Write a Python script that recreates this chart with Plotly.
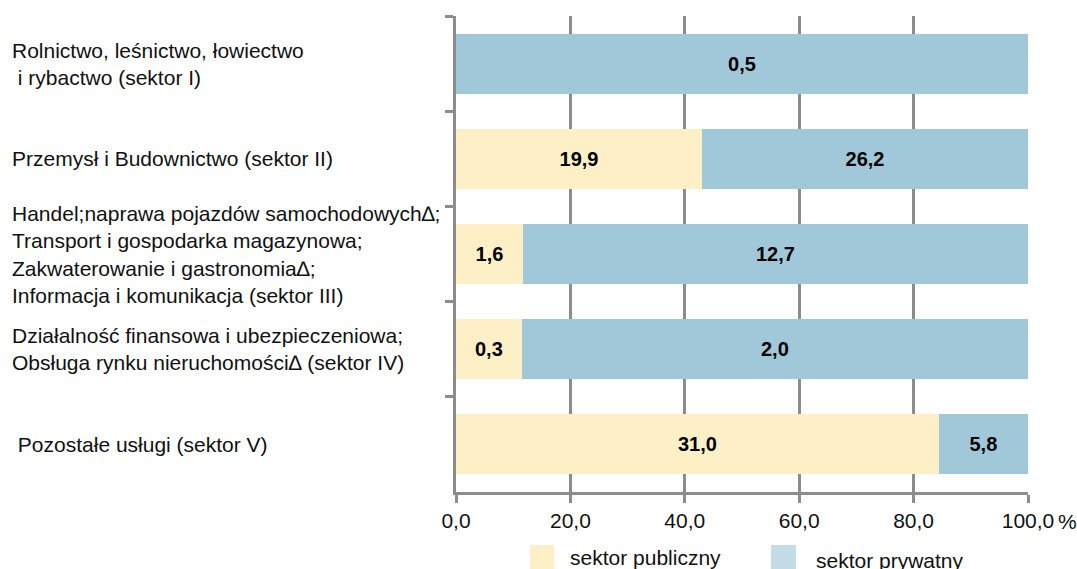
import plotly.graph_objects as go

categories = ["sektor I", "sektor II", "sektor III", "sektor IV", "sektor V"]
category_labels = [
    "Rolnictwo, leśnictwo, łowiectwo<br> i rybactwo (sektor I)",
    "Przemysł i Budownictwo (sektor II)",
    "Handel;naprawa pojazdów samochodowych∆;<br>Transport i gospodarka magazynowa;<br>Zakwaterowanie i gastronomia∆;<br>Informacja i komunikacja (sektor III)",
    "Działalność finansowa i ubezpieczeniowa;<br>Obsługa rynku nieruchomości∆ (sektor IV)",
    " Pozostałe usługi (sektor V)",
]
# share of bar (%)
public_pct = [0.0, 43.0, 11.7, 11.5, 84.4]
private_pct = [100.0, 57.0, 88.3, 88.5, 15.6]
# value labels printed in bars
public_labels = ["", "19,9", "1,6", "0,3", "31,0"]
private_labels = ["0,5", "26,2", "12,7", "2,0", "5,8"]
series_names = ["sektor publiczny", "sektor prywatny"]
x_ticks = [0, 20, 40, 60, 80, 100]
x_ticktext = ["0,0", "20,0", "40,0", "60,0", "80,0", "100,0"]
x_unit = "%"

C_PUB = "#FEF0C6"
C_PRIV = "#A0C8D8"
C_PRIV_LEG = "#C3DDE6"
GREY = "#8C8C8C"
FONT = "Liberation Sans, Arial, sans-serif"

fig = go.Figure()
for vals, labels, color, name in [
    (public_pct, public_labels, C_PUB, series_names[0]),
    (private_pct, private_labels, C_PRIV, series_names[1]),
]:
    fig.add_trace(go.Bar(
        y=categories, x=vals, orientation="h", name=name,
        marker=dict(color=color, line=dict(width=0)),
        text=labels, textposition="inside", insidetextanchor="middle",
        textangle=0, constraintext="none",
        textfont=dict(family=FONT, size=20, color="black", weight="bold"),
        showlegend=False, hoverinfo="skip",
    ))

fig.update_layout(
    barmode="stack", bargap=0.37,
    width=1077, height=569,
    margin=dict(l=456, r=49, t=16, b=77),
    paper_bgcolor="white", plot_bgcolor="white",
    font=dict(family=FONT, size=21, color="black"),
)
fig.update_xaxes(
    range=[0, 100], tickvals=x_ticks, ticktext=x_ticktext,
    showgrid=True, gridcolor=GREY, gridwidth=3,
    showline=True, linecolor=GREY, linewidth=3,
    ticks="outside", ticklen=8, tickwidth=3, tickcolor=GREY,
    zeroline=False, tickfont=dict(size=21, family=FONT, color="#111"),
    fixedrange=True, automargin=False,
)
fig.update_yaxes(
    categoryorder="array", categoryarray=categories, autorange="reversed",
    showticklabels=False, tickson="boundaries",
    ticks="outside", ticklen=8, tickwidth=3, tickcolor=GREY,
    showline=True, linecolor=GREY, linewidth=3, showgrid=False,
    fixedrange=True, automargin=False,
)

for cat, lab in zip(categories, category_labels):
    fig.add_annotation(
        x=-0.78, xref="paper", y=cat, yref="y", text=lab,
        xanchor="left", yanchor="middle", align="left", showarrow=False,
        font=dict(size=21, family=FONT, color="#111"),
    )

plot_h = 569 - 16 - 77
def py(pix):
    return (569 - 77 - pix) / plot_h
def px(pix):
    return (pix - 456) / 572

# unit after last tick label
fig.add_annotation(x=px(1056), y=py(521), xref="paper", yref="paper",
                   text=x_unit, showarrow=False, xanchor="left", yanchor="middle",
                   font=dict(size=21, family=FONT, color="#111"))

# legend drawn manually
for x0, x1, color, name, tx, ty in [
    (530, 554, C_PUB, series_names[0], 568, 557),
    (771, 796, C_PRIV_LEG, series_names[1], 814, 560),
]:
    fig.add_shape(type="rect", xref="paper", yref="paper",
                  x0=px(x0), x1=px(x1), y0=py(569), y1=py(545),
                  fillcolor=color, line=dict(width=0))
    fig.add_annotation(x=px(tx), y=py(ty), xref="paper", yref="paper",
                       text=name, showarrow=False, xanchor="left", yanchor="middle",
                       font=dict(size=21, family=FONT, color="#111"))

fig.write_html("out.html", config={"displayModeBar": False},
               post_script="document.body.style.margin='0';document.body.style.overflow='hidden';")
